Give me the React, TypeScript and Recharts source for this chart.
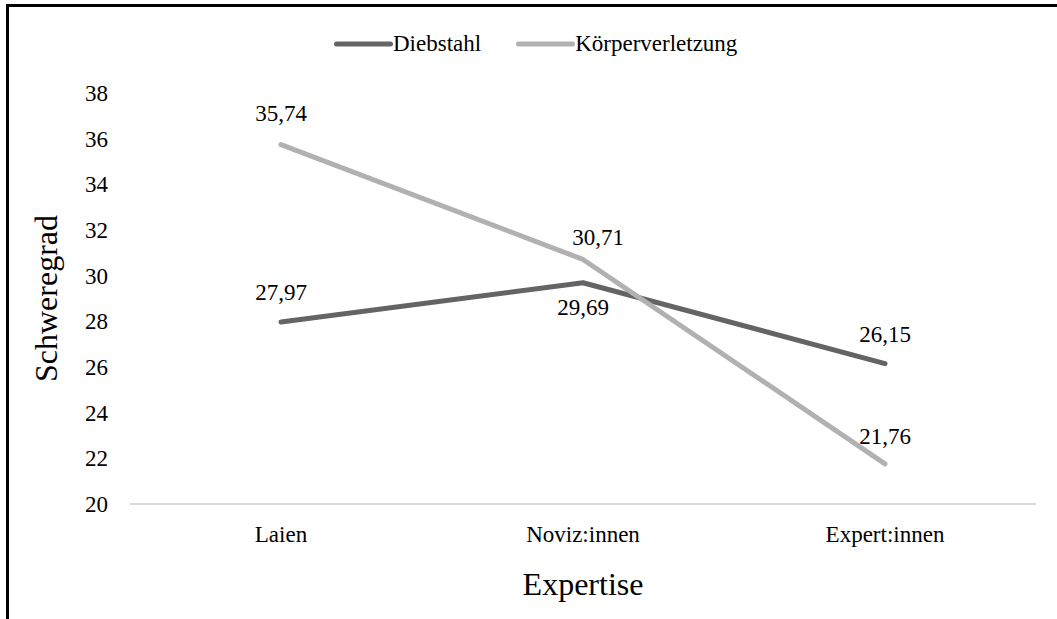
import React from 'react';
import { LineChart, Line, XAxis, YAxis, Legend, LabelList } from 'recharts';

const categories = ['Laien', 'Noviz:innen', 'Expert:innen'];
const diebstahl = [27.97, 29.69, 26.15];
const koerperverletzung = [35.74, 30.71, 21.76];
const yTicks = [20, 22, 24, 26, 28, 30, 32, 34, 36, 38];

const data = categories.map((name, i) => ({
  name,
  diebstahl: diebstahl[i],
  koerperverletzung: koerperverletzung[i],
}));

const FONT = '"Liberation Serif", "Times New Roman", serif';
const DARK = '#646464';
const LIGHT = '#b1b1b1';

const fmt = (v: number) => v.toFixed(2).replace('.', ',');

// label offsets per point, like Excel placed them
const makeLabel = (offsets: { dx: number; dy: number }[]) => (props: any) => {
  const { x, y, value, index } = props;
  const o = offsets[index] || { dx: 0, dy: -20 };
  return (
    <text x={x + o.dx} y={y + o.dy} textAnchor="middle" fontFamily={FONT} fontSize={23} fill="#000">
      {fmt(value)}
    </text>
  );
};

const diebLabel = makeLabel([
  { dx: 0, dy: -22 },
  { dx: 0, dy: 32 },
  { dx: 0, dy: -22 },
]);
const koerpLabel = makeLabel([
  { dx: 0, dy: -24 },
  { dx: 15, dy: -14 },
  { dx: 0, dy: -20 },
]);

const LegendContent = () => {
  const items = [
    { label: 'Diebstahl', color: DARK },
    { label: 'Körperverletzung', color: LIGHT },
  ];
  return (
    <div style={{ display: 'flex', alignItems: 'center', fontFamily: FONT, fontSize: 23, color: '#000' }}>
      {items.map((it, i) => (
        <div key={it.label} style={{ display: 'flex', alignItems: 'center', marginLeft: i ? 32 : 0 }}>
          <svg width={62} height={10} style={{ display: 'block' }}>
            <line x1={5.5} y1={5} x2={59.5} y2={5} stroke={it.color} strokeWidth={5} strokeLinecap="round" />
          </svg>
          <span style={{ lineHeight: '26px' }}>{it.label}</span>
        </div>
      ))}
    </div>
  );
};

const App = () => {
  return (
    <div style={{ position: 'absolute', left: 0, top: 0, width: 1057, height: 619, background: '#fff', overflow: 'hidden' }}>
      <div
        style={{
          position: 'absolute',
          left: 6,
          top: 4,
          width: 1100,
          height: 700,
          borderTop: '3px solid #000',
          borderLeft: '3px solid #000',
        }}
      />
      <div style={{ position: 'absolute', left: 0, top: 0 }}>
        <LineChart width={1057} height={619} data={data} margin={{ top: 93, right: 21, left: 0, bottom: 0 }}>
          <XAxis
            dataKey="name"
            height={115}
            padding={{ left: 151, right: 151 }}
            tickSize={0}
            tickMargin={22}
            tickLine={false}
            axisLine={{ stroke: '#d9d9d9', strokeWidth: 2 }}
            tick={{ fontFamily: FONT, fontSize: 23, fill: '#000' }}
            label={{
              content: (p: any) => (
                <text
                  x={p.viewBox.x + p.viewBox.width / 2}
                  y={p.viewBox.y + 91}
                  textAnchor="middle"
                  fontFamily={FONT}
                  fontSize={32}
                  fill="#000"
                >
                  Expertise
                </text>
              ),
            }}
          />
          <YAxis
            width={130}
            domain={[20, 38]}
            ticks={yTicks}
            interval={0}
            tickSize={0}
            tickMargin={22}
            tickLine={false}
            axisLine={false}
            tick={{ fontFamily: FONT, fontSize: 23, fill: '#000' }}
            label={{
              content: (p: any) => {
                const cy = p.viewBox.y + p.viewBox.height / 2;
                return (
                  <text
                    x={57}
                    y={cy}
                    transform={`rotate(-90, 57, ${cy})`}
                    textAnchor="middle"
                    fontFamily={FONT}
                    fontSize={32}
                    fill="#000"
                  >
                    Schweregrad
                  </text>
                );
              },
            }}
          />
          <Legend
            layout="vertical"
            verticalAlign="middle"
            align="center"
            wrapperStyle={{ top: 31, left: 331, width: 'auto', height: 'auto' }}
            content={<LegendContent />}
          />
          <Line
            dataKey="diebstahl"
            name="Diebstahl"
            stroke={DARK}
            strokeWidth={5}
            strokeLinecap="round"
            strokeLinejoin="round"
            dot={false}
            activeDot={false}
            isAnimationActive={false}
          >
            <LabelList dataKey="diebstahl" content={diebLabel} />
          </Line>
          <Line
            dataKey="koerperverletzung"
            name="Körperverletzung"
            stroke={LIGHT}
            strokeWidth={5}
            strokeLinecap="round"
            strokeLinejoin="round"
            dot={false}
            activeDot={false}
            isAnimationActive={false}
          >
            <LabelList dataKey="koerperverletzung" content={koerpLabel} />
          </Line>
        </LineChart>
      </div>
    </div>
  );
};

export default App;
